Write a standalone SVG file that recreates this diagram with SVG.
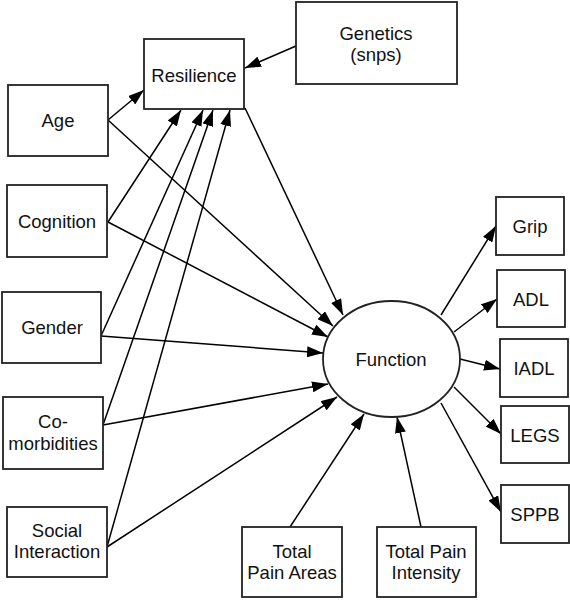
<svg xmlns="http://www.w3.org/2000/svg" width="570" height="600" viewBox="0 0 570 600">
<style>
.box{fill:#fff;stroke:#222;stroke-width:1.8}
.t{font-family:"Liberation Sans",Arial,sans-serif;font-size:18.5px;fill:#111;text-anchor:middle}
.c line{stroke:#000;stroke-width:1.5;marker-end:url(#ah)}
</style>
<defs>
<marker id="ah" markerUnits="userSpaceOnUse" markerWidth="16" markerHeight="11" refX="16" refY="5.5" orient="auto">
<path d="M0,0 L16,5.5 L0,11 z" fill="#000"/>
</marker>
</defs>
<rect width="570" height="600" fill="#fff"/>
<g class="c" id="connectors">
<line x1="296" y1="46" x2="245" y2="68"/>
<line x1="108" y1="120" x2="144" y2="90"/>
<line x1="108" y1="222" x2="181" y2="110"/>
<line x1="101" y1="336" x2="203" y2="110"/>
<line x1="103" y1="425" x2="213" y2="110"/>
<line x1="107" y1="547" x2="230" y2="110"/>
<line x1="245" y1="108" x2="343" y2="315"/>
<line x1="108" y1="120" x2="333" y2="326"/>
<line x1="108" y1="222" x2="328" y2="337"/>
<line x1="101" y1="336" x2="323" y2="353"/>
<line x1="103" y1="425" x2="328" y2="384"/>
<line x1="107" y1="547" x2="337" y2="397"/>
<line x1="290" y1="527" x2="364" y2="414"/>
<line x1="421" y1="527" x2="397" y2="417"/>
<line x1="441" y1="315" x2="496" y2="226"/>
<line x1="454" y1="332" x2="497" y2="299"/>
<line x1="460" y1="359" x2="500" y2="369"/>
<line x1="454" y1="387" x2="501" y2="434"/>
<line x1="441" y1="403" x2="501" y2="512"/>
</g>
<g id="resilience"><rect class="box" x="144" y="39" width="100" height="70"/><text class="t" x="194" y="82">Resilience</text></g>
<g id="genetics"><rect class="box" x="296" y="2" width="161" height="82"/><text class="t" x="376" y="40">Genetics</text><text class="t" x="376" y="61">(snps)</text></g>
<g id="age"><rect class="box" x="8" y="85" width="100" height="71"/><text class="t" x="58" y="127">Age</text></g>
<g id="cognition"><rect class="box" x="7" y="185" width="100" height="72"/><text class="t" x="57" y="228">Cognition</text></g>
<g id="gender"><rect class="box" x="2" y="292" width="99" height="71"/><text class="t" x="52" y="334">Gender</text></g>
<g id="comorbidities"><rect class="box" x="3" y="397" width="100" height="72"/><text class="t" x="53" y="428">Co-</text><text class="t" x="53" y="450">morbidities</text></g>
<g id="social"><rect class="box" x="7" y="507" width="100" height="70"/><text class="t" x="57" y="537">Social</text><text class="t" x="57" y="558">Interaction</text></g>
<g id="painareas"><rect class="box" x="242" y="527" width="100" height="70"/><text class="t" x="292" y="558">Total</text><text class="t" x="292" y="579">Pain Areas</text></g>
<g id="painintensity"><rect class="box" x="377" y="527" width="99" height="70"/><text class="t" x="426" y="558">Total Pain</text><text class="t" x="426" y="579">Intensity</text></g>
<g id="function"><ellipse cx="391.5" cy="359" rx="68.5" ry="58" fill="#fff" stroke="#222" stroke-width="1.8"/><text class="t" x="391" y="366">Function</text></g>
<g id="grip"><rect class="box" x="496" y="197" width="68" height="58"/><text class="t" x="530" y="233">Grip</text></g>
<g id="adl"><rect class="box" x="497" y="270" width="68" height="57"/><text class="t" x="531" y="306">ADL</text></g>
<g id="iadl"><rect class="box" x="500" y="339" width="68" height="58"/><text class="t" x="534" y="375">IADL</text></g>
<g id="legs"><rect class="box" x="501" y="406" width="68" height="57"/><text class="t" x="535" y="442">LEGS</text></g>
<g id="sppb"><rect class="box" x="501" y="485" width="68" height="58"/><text class="t" x="535" y="521">SPPB</text></g>
</svg>
